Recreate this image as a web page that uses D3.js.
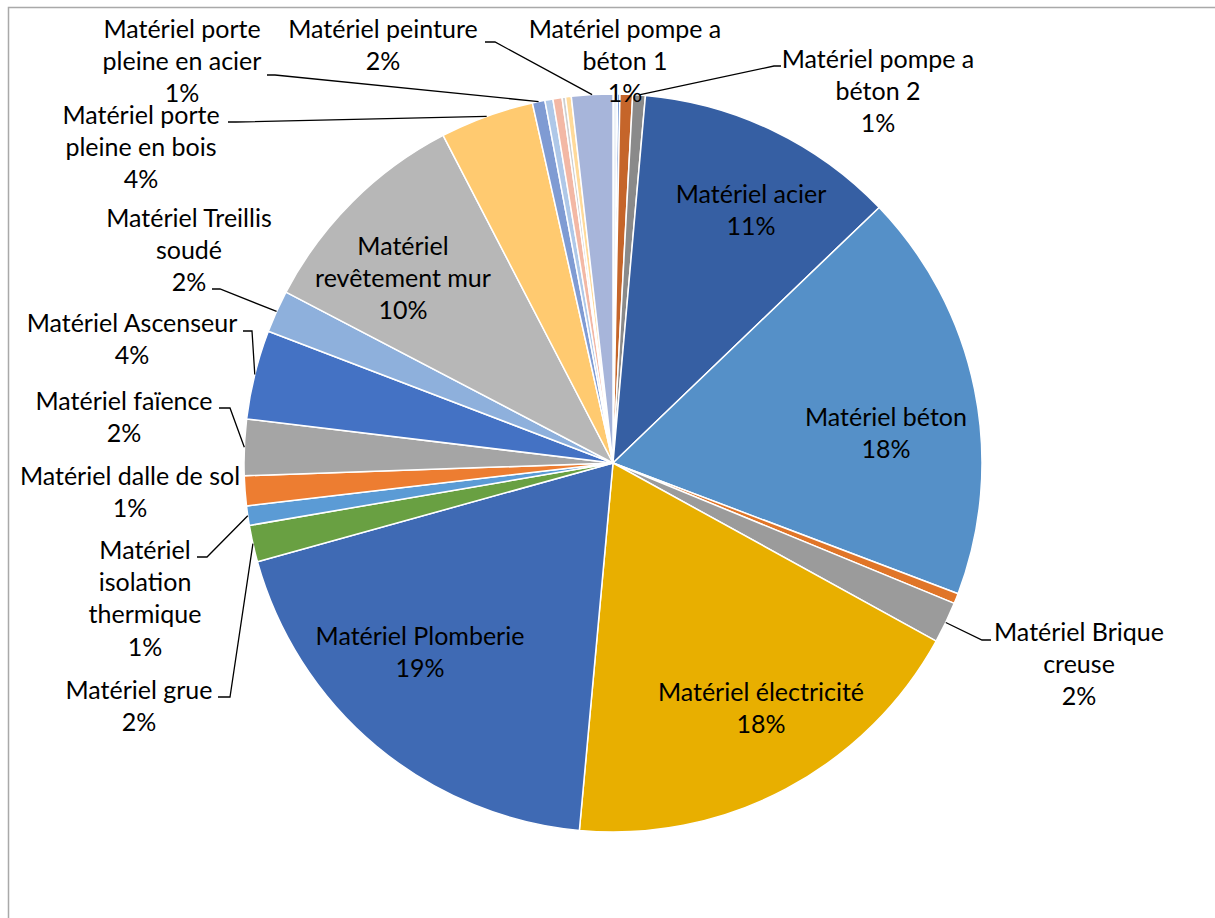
<!DOCTYPE html>
<html>
<head>
<meta charset="utf-8">
<script src="https://cdn.jsdelivr.net/npm/d3@7"></script>
<style>
  body { margin: 0; background: #fff; }
  svg { display: block; }
</style>
</head>
<body>
<div id="chart"></div>
<script>
// slices, clockwise from 12 o'clock (names with \n where the label wraps)
const categories = [
  "", "",
  "Matériel pompe a\nbéton 1",
  "Matériel pompe a\nbéton 2",
  "Matériel acier",
  "Matériel béton",
  "",
  "Matériel Brique\ncreuse",
  "Matériel électricité",
  "Matériel Plomberie",
  "Matériel grue",
  "Matériel\nisolation\nthermique",
  "Matériel dalle de sol",
  "Matériel faïence",
  "Matériel Ascenseur",
  "Matériel Treillis\nsoudé",
  "Matériel\nrevêtement mur",
  "Matériel porte\npleine en bois",
  "Matériel porte\npleine en acier",
  "", "", "", "",
  "Matériel peinture"
];
const values = [
  0.2, 0.1, 0.55, 0.55, 11.4, 17.9, 0.45, 1.8, 18.4, 19.2,
  1.6, 0.85, 1.3, 2.45, 3.9, 1.85, 9.7, 4.1, 0.55, 0.35,
  0.4, 0.15, 0.25, 1.8
];
const colors = [
  "#EEF2F8", "#4E7CC8", "#C5652A", "#8A8A8A", "#365FA3", "#5590C8",
  "#E07528", "#9B9B9B", "#E8AF00", "#3F6AB4", "#69A042", "#5B9BD5",
  "#ED7D31", "#A5A5A5", "#4472C4", "#8EB0DC", "#B7B7B7", "#FFCA70",
  "#7F9BD3", "#AFC8E8", "#F3B8A5", "#CFCFCF", "#FFDA9A", "#A7B5DA"
];

// label placement: text centre / first line centre, optional leader elbow + stub end
const labelLayout = {
  "Matériel pompe a\nbéton 1": { x: 625, y: 29 },
  "Matériel pompe a\nbéton 2": { x: 878, y: 59, elbow: [774, 66], stub: [781, 66] },
  "Matériel acier": { x: 751, y: 194 },
  "Matériel béton": { x: 886, y: 417 },
  "Matériel Brique\ncreuse": { x: 1079, y: 632, elbow: [982, 640], stub: [991, 640] },
  "Matériel électricité": { x: 761, y: 692 },
  "Matériel Plomberie": { x: 420, y: 636 },
  "Matériel grue": { x: 139, y: 690, elbow: [230, 697], stub: [218, 697] },
  "Matériel\nisolation\nthermique": { x: 145, y: 550, elbow: [207, 557], stub: [197, 557] },
  "Matériel dalle de sol": { x: 130, y: 476 },
  "Matériel faïence": { x: 124, y: 401, elbow: [230, 408], stub: [219, 408] },
  "Matériel Ascenseur": { x: 132, y: 323, elbow: [252, 331], stub: [243, 331] },
  "Matériel Treillis\nsoudé": { x: 189, y: 218, elbow: [220, 289], stub: [212, 289] },
  "Matériel\nrevêtement mur": { x: 403, y: 246 },
  "Matériel porte\npleine en bois": { x: 141, y: 115, elbow: [236, 122], stub: [228, 122] },
  "Matériel porte\npleine en acier": { x: 182, y: 29, elbow: [275, 75], stub: [267, 75] },
  "Matériel peinture": { x: 383, y: 29, elbow: [495, 42], stub: [485, 42] }
};

const width = 1215, height = 918;
const cx = 613, cy = 463, radius = 369;
const lineHeight = 32.3;

const svg = d3.select("#chart").append("svg")
  .attr("width", width)
  .attr("height", height);

// chart frame (only top and left edges are inside the picture)
svg.append("rect")
  .attr("x", 8.5).attr("y", 7.5)
  .attr("width", 1400).attr("height", 1200)
  .attr("fill", "none")
  .attr("stroke", "#A9A9A9")
  .attr("stroke-width", 1.5);

const data = values.map((v, i) => ({ name: categories[i], value: v, color: colors[i] }));
const total = d3.sum(values);

const pie = d3.pie().sort(null).value(d => d.value);
const arcs = pie(data);

const arc = d3.arc().innerRadius(0).outerRadius(radius);

const g = svg.append("g").attr("transform", `translate(${cx},${cy})`);

g.selectAll("path.slice")
  .data(arcs)
  .join("path")
  .attr("class", "slice")
  .attr("d", arc)
  .attr("fill", d => d.data.color)
  .attr("stroke", "#fff")
  .attr("stroke-width", 1.5)
  .attr("stroke-linejoin", "round");

// leader lines go to the outer edge at the slice's mid angle
const edgeArc = d3.arc().innerRadius(radius).outerRadius(radius);

const labelled = arcs.filter(d => labelLayout[d.data.name]);

svg.selectAll("polyline.leader")
  .data(labelled.filter(d => labelLayout[d.data.name].elbow))
  .join("polyline")
  .attr("class", "leader")
  .attr("fill", "none")
  .attr("stroke", "#000")
  .attr("stroke-width", 1.3)
  .attr("points", d => {
    const L = labelLayout[d.data.name];
    const [ex, ey] = edgeArc.centroid(d);
    return [[cx + ex, cy + ey], L.elbow, L.stub].map(p => p.join(",")).join(" ");
  });

const labels = svg.selectAll("text.label")
  .data(labelled)
  .join("text")
  .attr("class", "label")
  .attr("text-anchor", "middle")
  .style("font-family", "Lato, 'Noto Sans', sans-serif")
  .style("font-size", "25px")
  .style("fill", "#000");

labels.each(function(d) {
  const L = labelLayout[d.data.name];
  const lines = d.data.name.split("\n");
  lines.push(Math.round(d.data.value / total * 100) + "%");
  d3.select(this).selectAll("tspan")
    .data(lines)
    .join("tspan")
    .attr("x", L.x)
    .attr("y", (t, i) => L.y + i * lineHeight)
    .attr("dy", "0.35em")
    .text(t => t);
});
</script>
</body>
</html>
